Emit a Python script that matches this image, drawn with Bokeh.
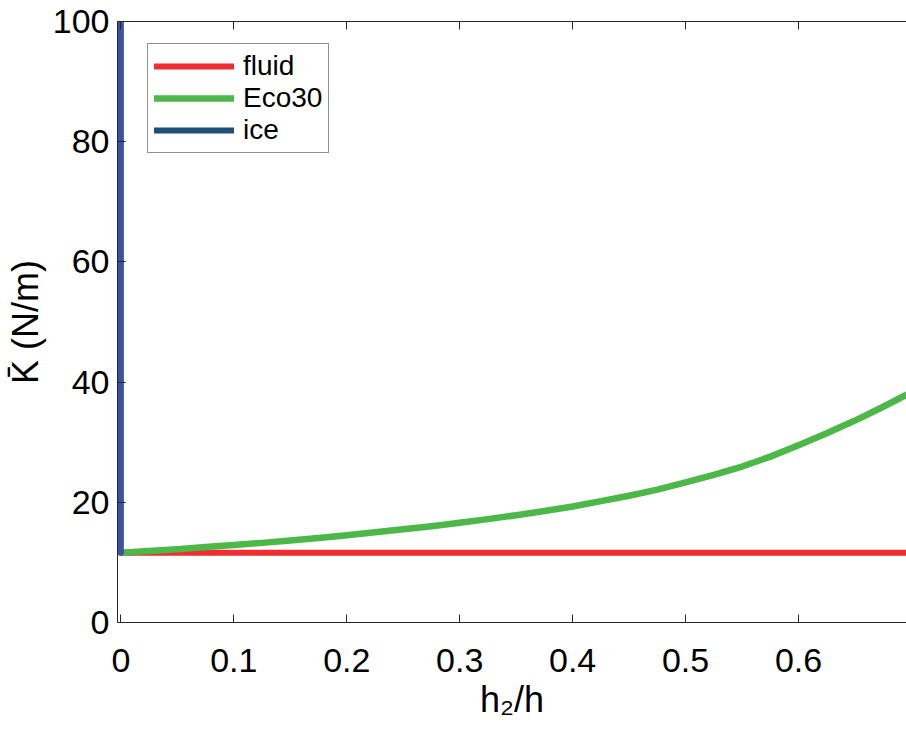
from bokeh.plotting import figure
from bokeh.models import Range1d, LinearAxis, Legend, LegendItem, FixedTicker
from bokeh.embed import file_html
from bokeh.resources import INLINE

# ---- data ----
h_ratio = [0, 0.025, 0.05, 0.075, 0.1, 0.125, 0.15, 0.175, 0.2, 0.225, 0.25, 0.275, 0.3,
           0.325, 0.35, 0.375, 0.4, 0.425, 0.45, 0.475, 0.5, 0.525, 0.55, 0.575, 0.6,
           0.625, 0.65, 0.675, 0.6956]
eco30 = [11.6, 11.9, 12.2, 12.55, 12.9, 13.25, 13.65, 14.05, 14.5, 15.0, 15.5, 16.0, 16.6,
         17.2, 17.85, 18.55, 19.3, 20.2, 21.1, 22.1, 23.3, 24.55, 25.95, 27.6, 29.5,
         31.5, 33.6, 35.9, 37.9]
fluid_x = [0, 0.6956]
fluid_y = [11.6, 11.6]
ice_x = [0, 0]
ice_y = [11.6, 100]
x_ticks = [0, 0.1, 0.2, 0.3, 0.4, 0.5, 0.6]
y_ticks = [0, 20, 40, 60, 80, 100]

FONT = "Liberation Sans"
AXC = "#262626"

p = figure(width=906, height=730, output_backend="svg", toolbar_location=None,
           x_range=Range1d(-0.003, 0.6956), y_range=Range1d(0, 100),
           min_border_left=117, min_border_right=0, min_border_top=21, min_border_bottom=108,
           x_axis_label="h\u2082/h", y_axis_label="K\u0304 (N/m)")
p.outline_line_color = None
p.grid.visible = False
p.background_fill_color = "white"
p.border_fill_color = "white"

for ax in (p.xaxis[0], p.yaxis[0]):
    ax.major_tick_in = 8
    ax.major_tick_out = 0
    ax.minor_tick_line_color = None
    ax.axis_line_color = AXC
    ax.major_tick_line_color = AXC
    ax.major_label_text_font = FONT
    ax.major_label_text_font_size = "34px"
    ax.major_label_text_color = "black"
    ax.axis_label_text_font = FONT
    ax.axis_label_text_font_size = "36px"
    ax.axis_label_text_font_style = "normal"
    ax.axis_label_text_color = "black"

p.xaxis[0].ticker = FixedTicker(ticks=x_ticks)
p.yaxis[0].ticker = FixedTicker(ticks=y_ticks)
p.xaxis[0].major_label_standoff = 26
p.xaxis[0].axis_label_standoff = 4
p.yaxis[0].major_label_standoff = 8
p.yaxis[0].axis_label_standoff = 4

top = LinearAxis(ticker=FixedTicker(ticks=x_ticks), major_tick_in=8, major_tick_out=0,
                 minor_tick_line_color=None, axis_line_color=AXC, major_tick_line_color=AXC,
                 major_label_overrides={t: "" for t in x_ticks},
                 major_label_text_font_size="1px", major_label_standoff=0)
p.add_layout(top, "above")

r_fluid = p.line(fluid_x, fluid_y, line_color="#EE2E31", line_width=6, line_cap="round")
r_eco = p.line(h_ratio, eco30, line_color="#4CB848", line_width=6.5, line_cap="round", line_join="round")
p.line(ice_x, ice_y, line_color="#3953A4", line_width=6, line_cap="round")
r_ice_leg = p.line([-1, -1], [-1, -1], line_color="#1F4E79", line_width=6, line_cap="round")

legend = Legend(items=[LegendItem(label="fluid", renderers=[r_fluid]),
                       LegendItem(label="Eco30", renderers=[r_eco]),
                       LegendItem(label="ice", renderers=[r_ice_leg])],
                location=(30, 469), margin=0, padding=6, spacing=0,
                glyph_width=80, glyph_height=30, label_height=30, label_standoff=9,
                label_text_font=FONT, label_text_font_size="28px", label_text_color="black",
                border_line_color=AXC, border_line_width=1.2,
                background_fill_color="white", background_fill_alpha=1)
p.add_layout(legend, "center")

open("out.html", "w").write(file_html(p, INLINE))
